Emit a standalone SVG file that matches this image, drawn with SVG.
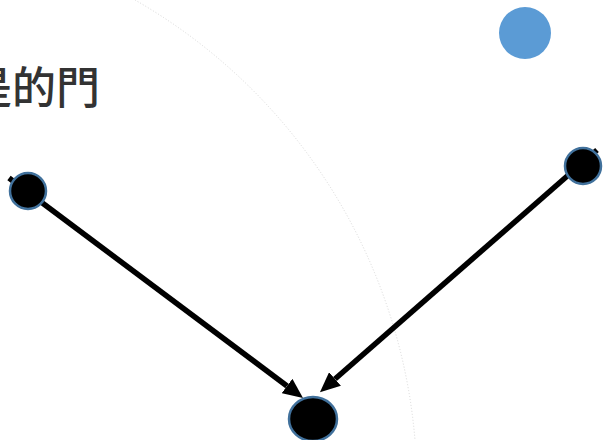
<svg xmlns="http://www.w3.org/2000/svg" width="603" height="440" viewBox="0 0 603 440">
<style>
.node{fill:#000;stroke:#41719C;stroke-width:2.5}
.edge{stroke:#000;stroke-width:5.5;fill:none}
.title{font-family:"Noto Sans CJK TC","Noto Sans CJK SC",sans-serif;font-size:44px;font-weight:500;fill:#333}
</style>
<defs>
<marker id="arr" markerUnits="userSpaceOnUse" markerWidth="20" markerHeight="18" refX="0" refY="9" orient="auto">
<path d="M0,0 L20,9 L0,18 z" fill="#000"/>
</marker>
</defs>
<rect width="603" height="440" fill="#fff"/>
<path d="M135,0 A561,561 0 0 1 415,440" fill="none" stroke="#d8d8d8" stroke-width="1" stroke-dasharray="1 2"/>
<circle cx="525" cy="33" r="26" fill="#5B9BD5"/>
<text class="title" x="-32" y="104">是的門</text>
<g id="connectors">
<line class="edge" x1="9" y1="178" x2="287" y2="386" marker-end="url(#arr)"/>
<line class="edge" x1="597" y1="150" x2="335" y2="379" marker-end="url(#arr)"/>
</g>
<g id="node-left"><circle class="node" cx="28" cy="191" r="18"/></g>
<g id="node-right"><circle class="node" cx="583" cy="166" r="18"/></g>
<g id="node-bottom"><ellipse class="node" cx="313" cy="419" rx="24" ry="22"/></g>
</svg>
